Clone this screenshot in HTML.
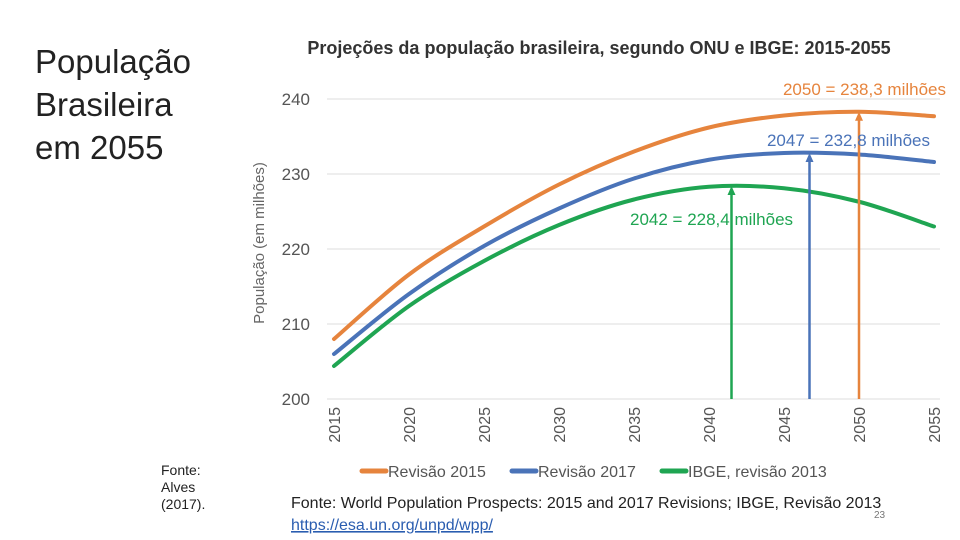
<!DOCTYPE html>
<html><head><meta charset="utf-8"><style>
body{margin:0;width:960px;height:540px;background:#fff;overflow:hidden;position:relative;font-family:"Liberation Sans",sans-serif}
.t{position:absolute}
</style></head><body>
<div class="t" style="left:35px;top:40px;font-size:33px;line-height:43px;color:#222">População<br>Brasileira<br>em 2055</div>
<div class="t" style="left:161px;top:462px;font-size:14px;line-height:17px;color:#222">Fonte:<br>Alves<br>(2017).</div>
<svg id="c" width="960" height="540" style="position:absolute;left:0;top:0"></svg>
<script>
const years=[2015,2020,2025,2030,2035,2040,2045,2050,2055];
const rev2015=[208,216.6,223,228.6,233,236.2,237.8,238.3,237.7];
const rev2017=[206,214,220.4,225.4,229.4,231.9,232.8,232.6,231.6];
const ibge2013=[204.4,212.4,218.4,223.2,226.6,228.3,228.1,226.3,223];
const yTicks=[200,210,220,230,240];
const xTicks=[2015,2020,2025,2030,2035,2040,2045,2050,2055];
const peakYears=[2050,2046.7,2041.5];
const peakVals=[238.3,232.8,228.4];
const peakLabels=["2050 = 238,3 milhões","2047 = 232,8 milhões","2042 = 228,4 milhões"];
const names=["Revisão 2015","Revisão 2017","IBGE, revisão 2013"];
const colors=["#e6843d","#4a73b8","#1fa552"];
const series=[rev2015,rev2017,ibge2013];
const X=v=>334+(v-2015)*15, Y=v=>399-(v-200)*7.5;
const svg=document.getElementById('c'),NS="http://www.w3.org/2000/svg";
function mk(t,a,txt){const e=document.createElementNS(NS,t);for(const k in a)e.setAttribute(k,a[k]);if(txt!=null)e.textContent=txt;svg.appendChild(e);return e;}
let e=mk('text',{x:599,y:54,'text-anchor':'middle','font-size':18,'font-weight':'bold',fill:'#333'},"Projeções da população brasileira, segundo ONU e IBGE: 2015-2055");

yTicks.forEach(t=>{
 let g=mk('line',{x1:327,x2:940,y1:Y(t),y2:Y(t),stroke:'#ddd','stroke-width':1});
 
 let l=mk('text',{x:310,y:Y(t)+6,'text-anchor':'end','font-size':17,fill:'#555'},t);
 
});
xTicks.forEach(t=>{
 let l=mk('text',{x:X(t)+6,y:407,'text-anchor':'end','font-size':16,fill:'#555',transform:`rotate(-90 ${X(t)+6} 407)`},t);
 
});
e=mk('text',{x:264,y:243,'text-anchor':'middle','font-size':15,fill:'#666',transform:'rotate(-90 264 243)'},"População (em milhões)");

function path(vals){const p=vals.map((v,i)=>[X(years[i]),Y(v)]);let d=`M${p[0][0]},${p[0][1]}`;
 for(let i=0;i<p.length-1;i++){const p0=p[i-1]||p[i],p1=p[i],p2=p[i+1],p3=p[i+2]||p2;
 d+=` C${p1[0]+(p2[0]-p0[0])/6},${p1[1]+(p2[1]-p0[1])/6} ${p2[0]-(p3[0]-p1[0])/6},${p2[1]-(p3[1]-p1[1])/6} ${p2[0]},${p2[1]}`;}return d;}
series.forEach((s,i)=>{
 let l=mk('path',{d:path(s),fill:'none',stroke:colors[i],'stroke-width':4,'stroke-linecap':'round'});
 
});
const lblPos=[[946,95,'end'],[930,146,'end'],[630,225,'start']];
peakYears.forEach((py,i)=>{
 let a=mk('line',{x1:X(py),x2:X(py),y1:399,y2:Y(peakVals[i])+4,stroke:colors[i],'stroke-width':2.5});
 
 let h=mk('path',{d:`M${X(py)-4},${Y(peakVals[i])+9} L${X(py)},${Y(peakVals[i])} L${X(py)+4},${Y(peakVals[i])+9}Z`,fill:colors[i]});
 
 let t=mk('text',{x:lblPos[i][0],y:lblPos[i][1],'text-anchor':lblPos[i][2],'font-size':17,fill:colors[i]},peakLabels[i]);
 
});
const legX=[362,512,662];
names.forEach((n,i)=>{
 let l=mk('line',{x1:legX[i],x2:legX[i]+24,y1:471,y2:471,stroke:colors[i],'stroke-width':5,'stroke-linecap':'round'});
 
 let t=mk('text',{x:legX[i]+26,y:477,'font-size':16,fill:'#555'},n);
 
});
e=mk('text',{x:291,y:508,'font-size':16,fill:'#222'},"Fonte: World Population Prospects: 2015 and 2017 Revisions; IBGE, Revisão 2013");

e=mk('text',{x:291,y:530,'font-size':16,fill:'#2a5db0','text-decoration':'underline'},"https://esa.un.org/unpd/wpp/");

e=mk('text',{x:874,y:518,'font-size':10,fill:'#777'},"23");

</script>
</body></html>
